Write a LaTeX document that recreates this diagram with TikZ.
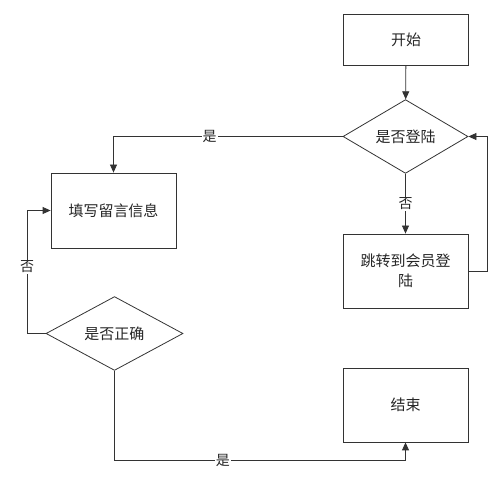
\documentclass[tikz,border=0pt]{standalone}
\usepackage{fontspec}
\newfontfamily\cjk{Noto Sans CJK SC}
\usetikzlibrary{shapes.geometric,arrows.meta}
\begin{document}
\begin{tikzpicture}[x=1pt,y=-1pt,
  every node/.style={font=\cjk\fontsize{15}{20}\selectfont, text=black!85},
  box/.style={draw=black!80, line width=0.8pt, rectangle, minimum width=125pt, inner sep=2pt, align=center},
  dec/.style={draw=black!80, line width=0.8pt, diamond, inner sep=0pt},
  conn/.style={draw=black!80, line width=0.8pt, -{Triangle[length=8pt,width=7pt]}},
  lbl/.style={fill=white, inner sep=1pt, font=\cjk\fontsize{14}{16}\selectfont}]
\useasboundingbox (0,0) rectangle (499,484);
\node[box, minimum height=51pt] (start) at (406,39.5) {开始};
\node[dec, minimum width=125pt, minimum height=73pt] (login) at (405.5,136.5) {是否登陆};
\node[box, minimum height=75pt] (fill) at (113.5,210.5) {填写留言信息};
\node[box, minimum height=74pt] (jump) at (405.5,271) {跳转到会员登\\陆};
\node[dec, minimum width=137pt, minimum height=73pt] (correct) at (114.5,333.5) {是否正确};
\node[box, minimum height=74pt] (end) at (405.5,405) {结束};
\coordinate (rloop) at (487,270);
\coordinate (lloop) at (27,333.5);
\coordinate (bot) at (114.5,460);
\draw[conn] (start) -- (login);
\draw[conn] (login.west) -| node[lbl, pos=0.29] {是} (fill.north);
\draw[conn] (login.south) -- node[lbl] {否} (jump.north);
\draw[conn] (jump.east) -- (jump.east -| rloop) |- (login.east);
\draw[conn] (correct.west) -- (lloop) |- node[lbl, pos=0.27] {否} (fill.west);
\draw[conn] (correct.south) -- (bot) -| node[lbl, pos=0.186] {是} (end.south);
\end{tikzpicture}
\end{document}
